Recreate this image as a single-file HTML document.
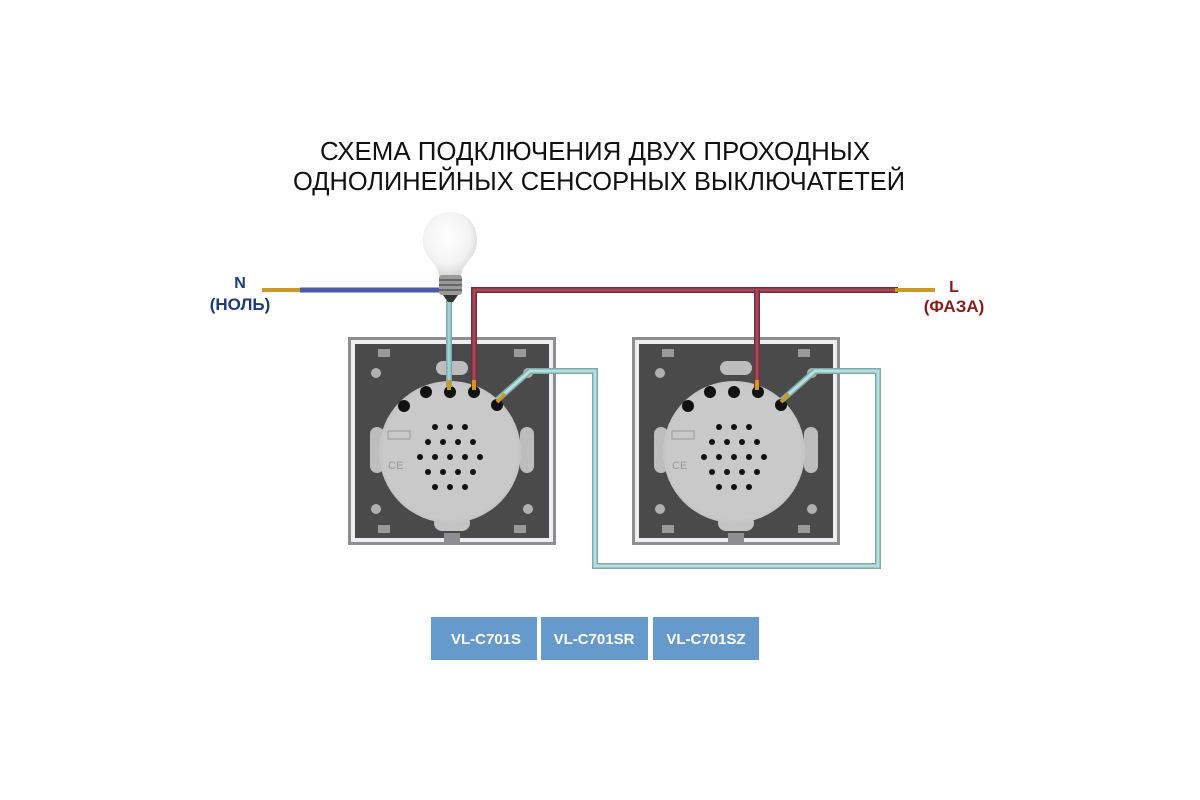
<!DOCTYPE html>
<html><head><meta charset="utf-8"><style>
html,body{margin:0;padding:0;background:#fff;}
svg{display:block;}
</style></head><body>
<svg width="1200" height="800" viewBox="0 0 1200 800" xmlns="http://www.w3.org/2000/svg">
<defs>
<radialGradient id="bulb" cx="0.45" cy="0.4" r="0.6">
<stop offset="0" stop-color="#ffffff"/><stop offset="0.7" stop-color="#f3f3f3"/><stop offset="1" stop-color="#d8d8d8"/>
</radialGradient>
<g id="sw">
<rect x="0" y="0" width="208" height="208" fill="#8e8e92"/>
<rect x="3" y="3" width="202" height="202" fill="#eeeeee"/>
<rect x="7" y="7" width="194" height="194" fill="#4a4a4a"/>
<rect x="30" y="12" width="12" height="8" fill="#9a9a9a"/>
<rect x="166" y="12" width="12" height="8" fill="#9a9a9a"/>
<rect x="30" y="188" width="12" height="8" fill="#9a9a9a"/>
<rect x="166" y="188" width="12" height="8" fill="#9a9a9a"/>
<circle cx="28" cy="36" r="5" fill="#b0b0b0"/><circle cx="180" cy="36" r="5" fill="#b0b0b0"/>
<circle cx="28" cy="172" r="5" fill="#b0b0b0"/><circle cx="180" cy="172" r="5" fill="#b0b0b0"/>
<rect x="88" y="24" width="32" height="14" rx="7" fill="#bdbdbd"/>
<rect x="86" y="178" width="36" height="16" rx="8" fill="#c4c4c4"/>
<rect x="22" y="90" width="14" height="46" rx="7" fill="#bdbdbd"/>
<rect x="172" y="90" width="14" height="46" rx="7" fill="#bdbdbd"/>
<rect x="96" y="196" width="16" height="12" fill="#8e8e92"/>
<circle cx="102" cy="115" r="71" fill="#c6c6c6"/>
<circle cx="102" cy="115" r="68" fill="#c9c9c9"/>
<circle cx="78" cy="55" r="6" fill="#111"/>
<circle cx="102" cy="55" r="6" fill="#111"/>
<circle cx="126" cy="55" r="6" fill="#111"/>
<circle cx="149" cy="68" r="6" fill="#111"/>
<circle cx="56" cy="69" r="6" fill="#111"/>
<g fill="#111">
<circle cx="87" cy="90" r="3"/><circle cx="102" cy="90" r="3"/><circle cx="117" cy="90" r="3"/>
<circle cx="80" cy="105" r="3"/><circle cx="95" cy="105" r="3"/><circle cx="110" cy="105" r="3"/><circle cx="125" cy="105" r="3"/>
<circle cx="72" cy="120" r="3"/><circle cx="87" cy="120" r="3"/><circle cx="102" cy="120" r="3"/><circle cx="117" cy="120" r="3"/><circle cx="132" cy="120" r="3"/>
<circle cx="80" cy="135" r="3"/><circle cx="95" cy="135" r="3"/><circle cx="110" cy="135" r="3"/><circle cx="125" cy="135" r="3"/>
<circle cx="87" cy="150" r="3"/><circle cx="102" cy="150" r="3"/><circle cx="117" cy="150" r="3"/>
</g>
<rect x="40" y="94" width="22" height="8" fill="none" stroke="#999" stroke-width="1"/>
<text x="40" y="132" font-family="Liberation Sans, sans-serif" font-size="11" fill="#999">CE</text>
</g>
</defs>

<text x="595" y="160" text-anchor="middle" font-family="Liberation Sans, sans-serif" font-size="26" fill="#111" textLength="550" lengthAdjust="spacingAndGlyphs">СХЕМА ПОДКЛЮЧЕНИЯ ДВУХ ПРОХОДНЫХ</text>
<text x="599" y="190" text-anchor="middle" font-family="Liberation Sans, sans-serif" font-size="26" fill="#111" textLength="612" lengthAdjust="spacingAndGlyphs">ОДНОЛИНЕЙНЫХ СЕНСОРНЫХ ВЫКЛЮЧАТЕТЕЙ</text>

<use href="#sw" x="348" y="337"/>
<use href="#sw" x="632" y="337"/>

<!-- N wire -->
<line x1="262" y1="290" x2="302" y2="290" stroke="#c79a2a" stroke-width="4"/>
<line x1="300" y1="290" x2="440" y2="290" stroke="#4b5aa8" stroke-width="5"/>
<!-- lamp to L1 teal -->
<line x1="449" y1="300" x2="449" y2="387" stroke="#7fa9aa" stroke-width="6"/>
<line x1="449" y1="300" x2="449" y2="387" stroke="#9fd3d3" stroke-width="3"/>
<!-- red L -->
<path d="M474 387 V290 H898" fill="none" stroke="#7a2a3a" stroke-width="6"/>
<path d="M474 387 V290 H898" fill="none" stroke="#a24a5a" stroke-width="3"/>
<path d="M757 290 V387" fill="none" stroke="#7a2a3a" stroke-width="6"/>
<path d="M757 290 V387" fill="none" stroke="#a24a5a" stroke-width="3"/>
<line x1="895" y1="290" x2="935" y2="290" stroke="#c79a2a" stroke-width="4"/>
<!-- teal traveller -->
<path d="M497 400 L530 371 H595 V566 H878 V371 H815 L782 400" fill="none" stroke="#7fa9aa" stroke-width="6"/>
<path d="M497 400 L530 371 H595 V566 H878 V371 H815 L782 400" fill="none" stroke="#b6e0e0" stroke-width="3"/>
<!-- brass terminal tips -->
<g stroke="#c79a2a" stroke-width="4">
<line x1="449" y1="380" x2="449" y2="390"/><line x1="474" y1="380" x2="474" y2="390"/>
<line x1="757" y1="380" x2="757" y2="390"/>
<line x1="497" y1="402" x2="505" y2="394"/><line x1="781" y1="402" x2="789" y2="394"/>
</g>

<!-- bulb -->
<path d="M450 212 C470 212 478 228 477 243 C476 258 462 263 461 276 H439 C438 263 424 258 423 243 C422 228 430 212 450 212 Z" fill="url(#bulb)"/>
<rect x="439" y="275" width="23" height="20" rx="3" fill="#9a9a9a"/>
<g stroke="#555" stroke-width="1.5"><line x1="439" y1="280" x2="462" y2="280"/><line x1="439" y1="285" x2="462" y2="285"/><line x1="439" y1="290" x2="462" y2="290"/></g>
<path d="M443 295 H458 L453 302 H448 Z" fill="#333"/>

<text x="240" y="288" text-anchor="middle" font-family="Liberation Sans, sans-serif" font-weight="bold" font-size="16" fill="#1f3a7a">N</text>
<text x="240" y="310" text-anchor="middle" font-family="Liberation Sans, sans-serif" font-weight="bold" font-size="17" fill="#1f3a7a">(НОЛЬ)</text>
<text x="954" y="292" text-anchor="middle" font-family="Liberation Sans, sans-serif" font-weight="bold" font-size="16" fill="#8a1a1a">L</text>
<text x="954" y="312" text-anchor="middle" font-family="Liberation Sans, sans-serif" font-weight="bold" font-size="17" fill="#8a1a1a">(ФАЗА)</text>

<rect x="431" y="617" width="106" height="43" fill="#6699cc"/>
<rect x="541" y="617" width="107" height="43" fill="#6699cc"/>
<rect x="653" y="617" width="106" height="43" fill="#6699cc"/>
<g font-family="Liberation Sans, sans-serif" font-weight="bold" font-size="15" fill="#fff" text-anchor="middle">
<text x="486" y="644">VL-C701S</text>
<text x="594" y="644">VL-C701SR</text>
<text x="706" y="644">VL-C701SZ</text>
</g>
</svg>
</body></html>
